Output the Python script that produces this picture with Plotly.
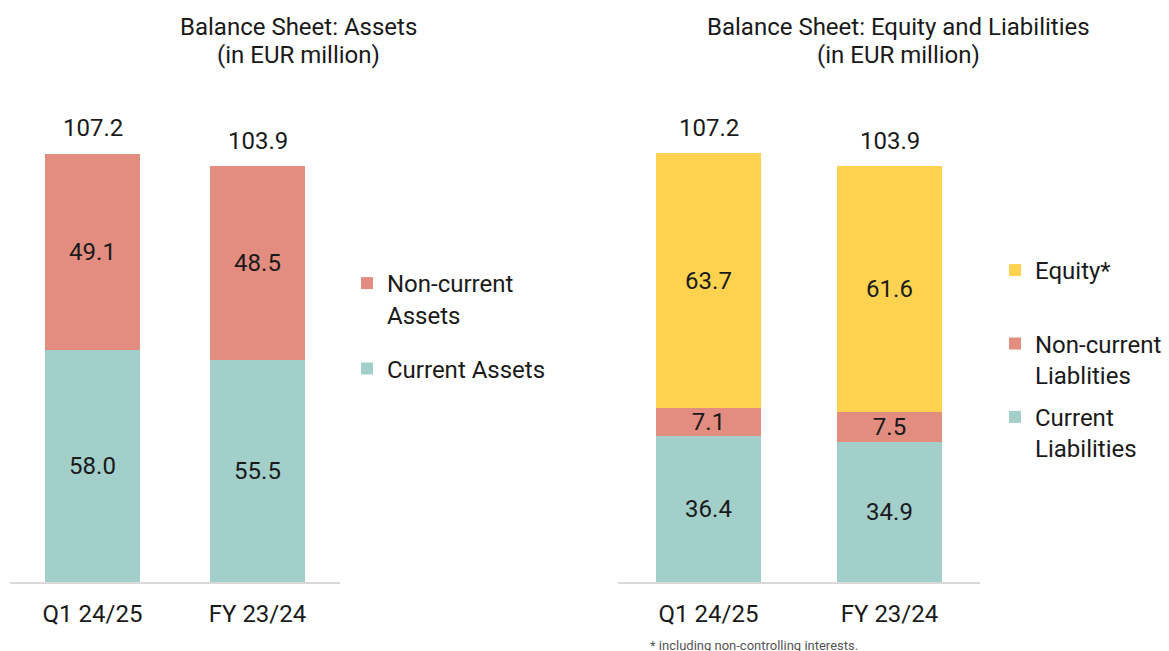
import plotly.graph_objects as go

categories = ["Q1 24/25", "FY 23/24"]
assets_current = [58.0, 55.5]
assets_noncurrent = [49.1, 48.5]
assets_total = [107.2, 103.9]
liab_current = [36.4, 34.9]
liab_noncurrent = [7.1, 7.5]
equity = [63.7, 61.6]
eqliab_total = [107.2, 103.9]

TEAL = "#A2CFCA"
SALMON = "#E38D80"
YELLOW = "#FFD350"
TXT = "#1a1a1a"
FONT = "Roboto"
W, H = 1169, 651
OFF = 8  # page body margin offset

def px(x):
    return (x - OFF) / W

def py(y):
    return 1 - (y - OFF) / H

fig = go.Figure()

def bar(x, y, name, color, xa, ya, legend, rank):
    return go.Bar(
        x=x, y=y, name=name, marker=dict(color=color, line=dict(width=0)),
        xaxis=xa, yaxis=ya, legend=legend, legendgroup=name, legendrank=rank,
        width=0.575, text=[f"{v:.1f}" for v in y], textposition="inside",
        insidetextanchor="middle", constraintext="none",
        textfont=dict(size=24, color=TXT, family=FONT),
        hoverinfo="skip",
    )

fig.add_trace(bar(categories, assets_current, "Current Assets", TEAL, "x", "y", "legend", 2))
fig.add_trace(bar(categories, assets_noncurrent, "Non-current<br>Assets", SALMON, "x", "y", "legend", 1))
fig.add_trace(bar(categories, liab_current, "Current<br>Liabilities", TEAL, "x2", "y2", "legend2", 3))
fig.add_trace(bar(categories, liab_noncurrent, "Non-current<br>Liablities", SALMON, "x2", "y2", "legend2", 2))
fig.add_trace(bar(categories, equity, "Equity*<br>&nbsp;", YELLOW, "x2", "y2", "legend2", 1))

for c, t in zip(categories, assets_total):
    fig.add_annotation(x=c, y=t, xref="x", yref="y", text=f"{t:.1f}", showarrow=False,
                       yanchor="middle", yshift=25, font=dict(size=24, color=TXT, family=FONT))
for c, t in zip(categories, eqliab_total):
    fig.add_annotation(x=c, y=t, xref="x2", yref="y2", text=f"{t:.1f}", showarrow=False,
                       yanchor="middle", yshift=25, font=dict(size=24, color=TXT, family=FONT))

titles = [(298.5, 27, "Balance Sheet: Assets"), (298.5, 55, "(in EUR million)"),
          (898, 27, "Balance Sheet: Equity and Liabilities"), (898, 55, "(in EUR million)")]
for x, y, t in titles:
    fig.add_annotation(x=px(x), y=py(y), xref="paper", yref="paper", text=t, showarrow=False,
                       xanchor="center", yanchor="middle", font=dict(size=24, color=TXT, family=FONT))
fig.add_annotation(x=px(648), y=py(645), xref="paper", yref="paper",
                   text="* including non-controlling interests.", showarrow=False,
                   xanchor="left", yanchor="middle", font=dict(size=13, color="#555555", family=FONT))

ydom = [py(582), 1]
yrange = [0, (582 - OFF) / 4]
xcommon = dict(showline=True, linecolor="#D9D9D9", linewidth=2, range=[-0.5, 1.5],
               ticks="outside", ticklen=9, tickcolor="rgba(0,0,0,0)",
               tickfont=dict(size=24, color=TXT, family=FONT), showgrid=False, zeroline=False,
               fixedrange=True)
ycommon = dict(visible=False, range=yrange, domain=ydom, showgrid=False, zeroline=False, fixedrange=True)

fig.update_layout(
    width=W, height=H, barmode="stack", bargap=0,
    margin=dict(l=0, r=0, t=0, b=0),
    plot_bgcolor="white", paper_bgcolor="white",
    font=dict(family=FONT, color=TXT),
    xaxis=dict(domain=[px(10), px(340)], anchor="y", **xcommon),
    yaxis=dict(anchor="x", **ycommon),
    xaxis2=dict(domain=[px(618), px(980)], anchor="y2", **xcommon),
    yaxis2=dict(anchor="x2", **ycommon),
    legend=dict(x=px(347), y=py(261), xanchor="left", yanchor="top", valign="top",
                font=dict(size=24, color=TXT, family=FONT), bgcolor="rgba(0,0,0,0)",
                traceorder="grouped", tracegroupgap=20, itemclick=False),
    legend2=dict(x=px(995), y=py(248), xanchor="left", yanchor="top", valign="top",
                 font=dict(size=24, color=TXT, family=FONT), bgcolor="rgba(0,0,0,0)",
                 traceorder="grouped", tracegroupgap=8, itemclick=False),
    showlegend=True,
)

fig.write_html("out.html")
